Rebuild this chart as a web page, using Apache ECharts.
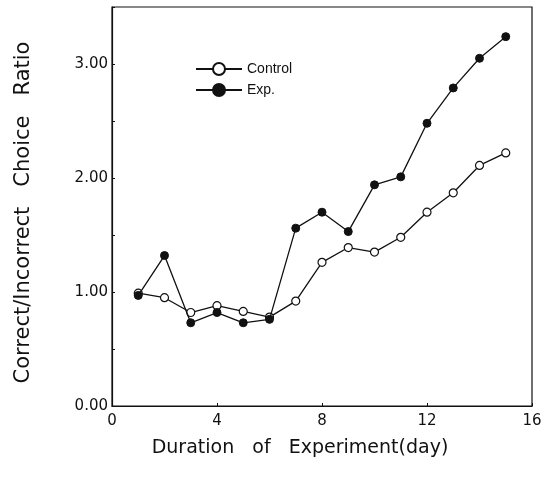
<!DOCTYPE html>
<html><head><meta charset="utf-8">
<script src="https://cdn.jsdelivr.net/npm/echarts@6/dist/echarts.min.js"></script>
<style>html,body{margin:0;padding:0;background:#fff}#c{width:547px;height:477px}</style>
</head><body><div id="c"></div>
<script>
const days = [1,2,3,4,5,6,7,8,9,10,11,12,13,14,15];
const control = [0.99,0.95,0.82,0.88,0.83,0.78,0.92,1.26,1.39,1.35,1.48,1.70,1.87,2.11,2.22];
const exp = [0.97,1.32,0.73,0.82,0.73,0.76,1.56,1.70,1.53,1.94,2.01,2.48,2.79,3.05,3.24];
const xTicks = [0,4,8,12,16];
const yTicks = [0,1,2,3];

const chart = echarts.init(document.getElementById('c'));
const axisFont = {fontFamily:'DejaVu Sans', fontSize:15, color:'#111'};
chart.setOption({
  animation:false,
  grid:{left:112,right:15,top:7,bottom:71,show:true,borderColor:'#111',borderWidth:1.2},
  legend:{
    left:190, top:57, orient:'vertical', itemGap:7, itemWidth:46, itemHeight:15,
    textStyle:{fontFamily:'Liberation Sans', fontSize:14, color:'#111'},
    data:[{name:'Control'},{name:'Exp.'}]
  },
  xAxis:{
    type:'value', min:0, max:16, interval:4,
    name:'Duration   of   Experiment(day)', nameLocation:'middle', nameGap:33,
    nameTextStyle:{fontFamily:'DejaVu Sans', fontSize:19, color:'#111', padding:[0,44,0,0]},
    axisLine:{lineStyle:{color:'#111',width:1.2}},
    axisTick:{inside:true,length:3,lineStyle:{color:'#111'}},
    axisLabel:Object.assign({margin:8, formatter:v=>xTicks.includes(v)?String(v):''},axisFont),
    splitLine:{show:false}
  },
  yAxis:{
    type:'value', min:0, max:3.5, interval:0.5,
    name:'Correct/Incorrect   Choice   Ratio', nameLocation:'middle', nameGap:78,
    nameTextStyle:{fontFamily:'DejaVu Sans', fontSize:21, color:'#111', padding:[0,12,0,0]},
    axisLine:{lineStyle:{color:'#111',width:1.2}},
    axisTick:{inside:true,length:3,lineStyle:{color:'#111'}},
    axisLabel:Object.assign({margin:4, formatter:v=>yTicks.includes(v)?v.toFixed(2):''},axisFont),
    splitLine:{show:false}
  },
  series:[
    {name:'Control', type:'line', data:days.map((d,i)=>[d,control[i]]),
     symbol:'circle', symbolSize:8, z:2,
     lineStyle:{color:'#111',width:1.3},
     itemStyle:{color:'#fff',borderColor:'#111',borderWidth:1.2}},
    {name:'Exp.', type:'line', data:days.map((d,i)=>[d,exp[i]]),
     symbol:'circle', symbolSize:8, z:3,
     lineStyle:{color:'#111',width:1.3},
     itemStyle:{color:'#111',borderColor:'#111',borderWidth:1}}
  ]
});
</script></body></html>
